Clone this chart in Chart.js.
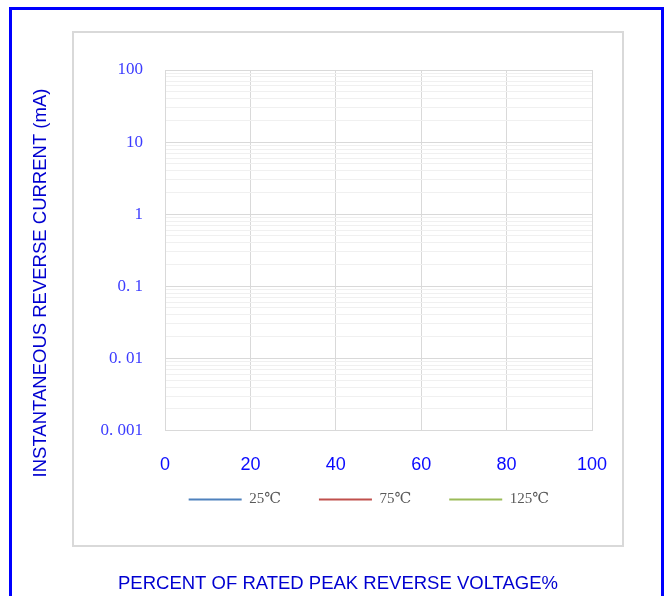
<!DOCTYPE html>
<html lang="en">
<head>
    <meta charset="UTF-8">
    <title>Instantaneous Reverse Current</title>
    <script src="https://cdn.jsdelivr.net/npm/chart.js"></script>
    <style>
        body { margin: 0; background: #fff; }
        .frame { position: absolute; left: 9px; top: 7px; width: 649px; height: 620px; border: 3px solid #0000ff; border-bottom: none; }
        .box { position: absolute; left: 72px; top: 31px; width: 548px; height: 512px; border: 2px solid #d9d9d9; }
        #wrap { position: absolute; left: 0; top: 0; width: 670px; height: 596px; }
    </style>
</head>
<body>
    <div class="frame"></div>
    <div class="box"></div>
    <div id="wrap"><canvas id="chart"></canvas></div>

    <script>
    // axis ticks
    const xTickValues = [0, 20, 40, 60, 80, 100];
    const yTickValues = [0.001, 0.01, 0.1, 1, 10, 100];
    const yTickLabels = ['0. 001', '0. 01', '0. 1', '1', '10', '100'];

    // series (the reference shows no plotted curves)
    const seriesNames = ['25℃', '75℃', '125℃'];
    const series25 = [];
    const series75 = [];
    const series125 = [];

    const xTitle = 'PERCENT OF RATED PEAK REVERSE VOLTAGE%';
    const yTitle = 'INSTANTANEOUS REVERSE CURRENT (mA)';

    const colors = ['#4f81bd', '#c0504d', '#9bbb59'];

    function decadeIndex(v) {
        return yTickValues.findIndex(t => Math.abs(Math.log10(t) - Math.log10(v)) < 1e-6);
    }

    // axis titles sit where the reference has them
    const axisTitles = {
        id: 'axisTitles',
        afterLayout(chart) {
            // legend row sits closer to the x labels than its item spacing allows
            const lg = chart.legend;
            lg.top -= 46; lg.bottom -= 46;
            lg.left -= 5; lg.right -= 5;
        },
        afterDraw(chart) {
            const c = chart.ctx;
            c.save();
            c.fillStyle = '#0000d0';
            c.font = '18.5px "Liberation Sans", Arial, sans-serif';
            c.textAlign = 'center';
            c.textBaseline = 'middle';
            c.fillText(xTitle, 338, 584);
            c.translate(41, 283);
            c.rotate(-Math.PI / 2);
            c.fillText(yTitle, 0, 0);
            c.restore();
        }
    };

    new Chart(document.getElementById('chart'), {
        type: 'line',
        data: {
            datasets: [series25, series75, series125].map((d, i) => ({
                label: seriesNames[i],
                data: d,
                borderColor: colors[i],
                backgroundColor: colors[i],
                borderWidth: 2,
                pointRadius: 0
            }))
        },
        options: {
            responsive: true,
            maintainAspectRatio: false,
            animation: false,
            layout: { padding: { left: 0, right: 78, top: 70, bottom: 33 } },
            scales: {
                x: {
                    type: 'linear',
                    min: 0,
                    max: 100,
                    afterBuildTicks: s => { s.ticks = xTickValues.map(v => ({ value: v })); },
                    ticks: {
                        autoSkip: false,
                        color: '#0a0aff',
                        padding: 24,
                        font: { family: '"Liberation Sans", Arial, sans-serif', size: 18 }
                    },
                    grid: { color: '#d9d9d9', drawTicks: false },
                    border: { color: '#d9d9d9' }
                },
                y: {
                    type: 'logarithmic',
                    min: 0.001,
                    max: 100,
                    afterBuildTicks: s => {
                        const t = [];
                        yTickValues.slice(0, -1).forEach(d => {
                            for (let k = 1; k < 10; k++) t.push({ value: d * k });
                        });
                        t.push({ value: yTickValues[yTickValues.length - 1] });
                        s.ticks = t;
                    },
                    afterFit: s => { s.width = 165; },
                    ticks: {
                        autoSkip: false,
                        color: '#3c3cff',
                        padding: 22,
                        font: { family: '"Liberation Serif", "DejaVu Serif", serif', size: 17 },
                        callback: v => {
                            const i = decadeIndex(v);
                            return i >= 0 ? yTickLabels[i] : '';
                        }
                    },
                    grid: {
                        drawTicks: false,
                        color: c => decadeIndex(c.tick.value) >= 0 ? '#d9d9d9' : '#f0f0f0'
                    },
                    border: { color: '#d9d9d9' }
                }
            },
            plugins: {
                legend: {
                    position: 'bottom',
                    align: 'end',
                    labels: {
                        usePointStyle: true,
                        pointStyle: 'line',
                        pointStyleWidth: 53,
                        padding: 38,
                        color: '#595959',
                        font: { family: '"Liberation Serif", "DejaVu Serif", serif', size: 15 }
                    }
                },
                tooltip: { enabled: false }
            }
        },
        plugins: [axisTitles]
    });
    </script>
</body>
</html>
